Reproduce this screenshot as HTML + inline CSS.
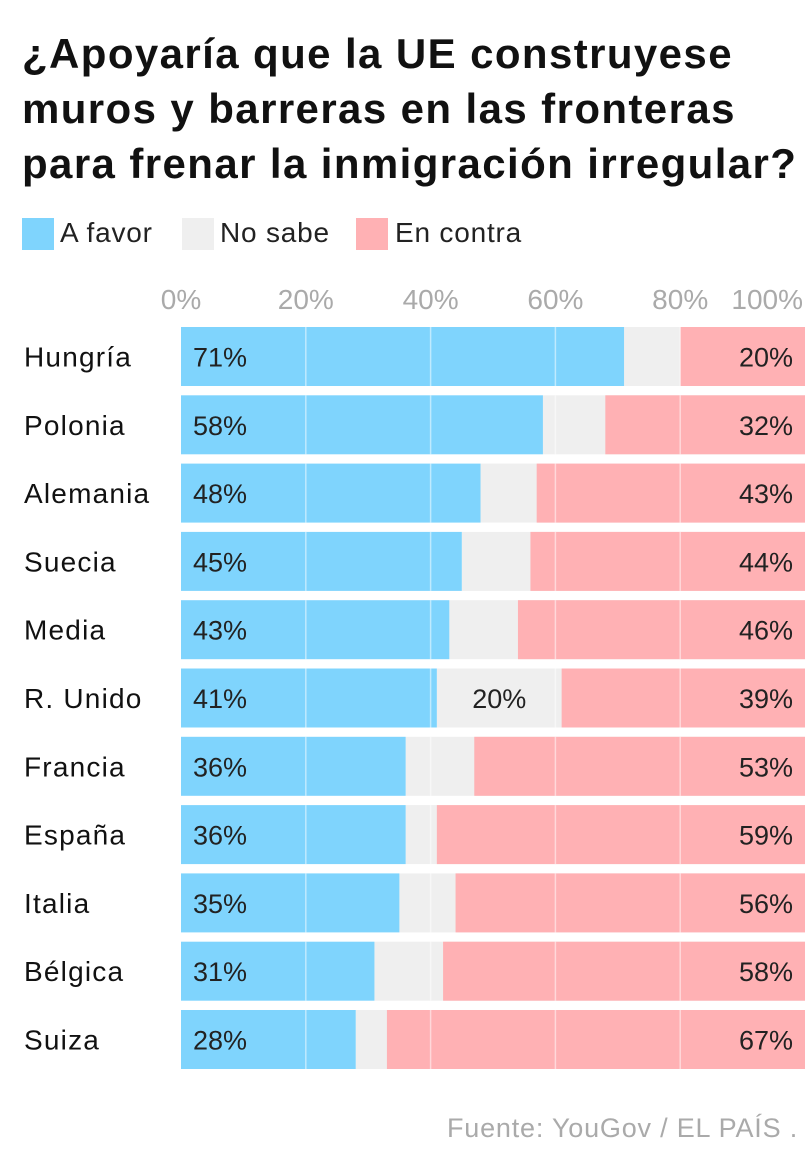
<!DOCTYPE html>
<html><head><meta charset="utf-8"><style>
body{margin:0;background:#fff;width:806px;height:1150px;overflow:hidden;font-family:"Liberation Sans",sans-serif;}
#title{position:absolute;left:22px;top:26px;font-size:42px;font-weight:bold;line-height:55px;color:#111;letter-spacing:1.4px;white-space:nowrap;}
.leg{position:absolute;top:217px;font-size:28px;color:#222;letter-spacing:0.8px;}
.sw{position:absolute;top:218px;width:32px;height:32px;}
#src{position:absolute;right:8px;top:1113px;font-size:27px;color:#aaa;letter-spacing:0.8px;}
</style></head><body>
<div id="title">¿Apoyaría que la UE construyese<br>muros y barreras en las fronteras<br>para frenar la inmigración irregular?</div>
<div class="sw" style="left:22px;background:#7fd4fd"></div>
<div class="leg" style="left:60px">A favor</div>
<div class="sw" style="left:182px;background:#efefef"></div>
<div class="leg" style="left:220px">No sabe</div>
<div class="sw" style="left:356px;background:#ffb1b4"></div>
<div class="leg" style="left:395px">En contra</div>
<svg id="chart" width="806" height="1150" style="position:absolute;left:0;top:0"></svg>
<div id="src">Fuente: YouGov / EL PAÍS .</div>
<script>
const countries=["Hungría","Polonia","Alemania","Suecia","Media","R. Unido","Francia","España","Italia","Bélgica","Suiza"];
const favor=[71,58,48,45,43,41,36,36,35,31,28];
const contra=[20,32,43,44,46,39,53,59,56,58,67];
const showNoSabe=[false,false,false,false,false,true,false,false,false,false,false];
const ticks=[0,20,40,60,80,100];
const x0=181,x1=805;
const X=v=>x0+(x1-x0)*v/100;
const rowY=i=>327+i*68.3;
const bh=59;
const svg=document.getElementById('chart');
const NS="http://www.w3.org/2000/svg";
function el(t,a){const e=document.createElementNS(NS,t);for(const k in a)e.setAttribute(k,a[k]);svg.appendChild(e);return e;}
ticks.forEach(t=>{
  const tx=el('text',{x:t===100?X(t)-2:X(t),y:309,'font-size':28,fill:'#aaa','text-anchor':t===100?'end':'middle'});
  tx.textContent=t+'%';
  
  
});
countries.forEach((c,i)=>{
  const y=rowY(i);
  const lab=el('text',{x:24,y:y+bh/2+10,'font-size':28,fill:'#111','letter-spacing':1.2});
  lab.textContent=c;
  
  
  const ns=100-favor[i]-contra[i];
  const g=el('rect',{x:X(favor[i]),y:y,width:X(100)-X(favor[i]),height:bh,fill:'#efefef'});
  
  
  const b=el('rect',{x:X(0),y:y,width:X(favor[i])-X(0),height:bh,fill:'#7fd4fd'});
  
  
  const r=el('rect',{x:X(100-contra[i]),y:y,width:X(100)-X(100-contra[i]),height:bh,fill:'#ffb1b4'});
  
  
  ticks.slice(1,5).forEach(t=>{
    const l=el('line',{x1:X(t),x2:X(t),y1:y,y2:y+bh,stroke:'rgba(255,255,255,0.5)','stroke-width':1.5});
    
    
  });
  const tf=el('text',{x:X(0)+12,y:y+bh/2+10,'font-size':27,fill:'#222'});
  tf.textContent=favor[i]+'%';
  
  
  const tc=el('text',{x:X(100)-12,y:y+bh/2+10,'font-size':27,fill:'#222','text-anchor':'end'});
  tc.textContent=contra[i]+'%';
  
  
  if(showNoSabe[i]){
    const tn=el('text',{x:(X(favor[i])+X(100-contra[i]))/2,y:y+bh/2+10,'font-size':27,fill:'#222','text-anchor':'middle'});
    tn.textContent=ns+'%';
    
    
  }
});
</script>
</body></html>
